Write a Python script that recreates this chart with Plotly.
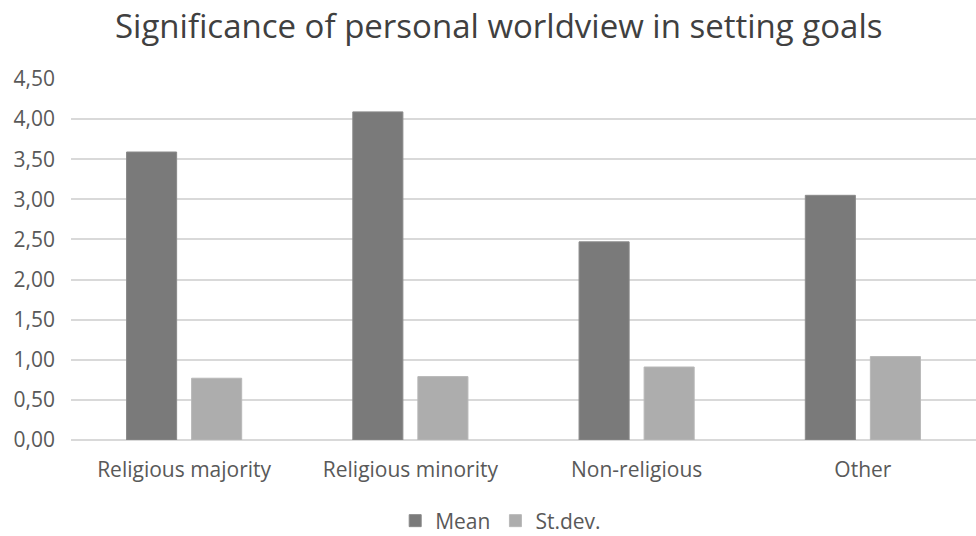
import plotly.graph_objects as go

categories = ["Religious majority", "Religious minority", "Non-religious", "Other"]
mean_vals = [3.59, 4.09, 2.47, 3.05]
sd_vals = [0.77, 0.79, 0.91, 1.04]
y_ticks = [0, 0.5, 1, 1.5, 2, 2.5, 3, 3.5, 4, 4.5]
y_tick_labels = ["0,00", "0,50", "1,00", "1,50", "2,00", "2,50", "3,00", "3,50", "4,00", "4,50"]

FONT = "Open Sans"

fig = go.Figure()
fig.add_trace(go.Bar(x=categories, y=mean_vals, name="Mean",
                     marker=dict(color="#7a7a7a", line=dict(color="#8a8a8a", width=1))))
fig.add_trace(go.Bar(x=categories, y=sd_vals, name="St.dev.",
                     marker=dict(color="#adadad", line=dict(color="#b8b8b8", width=1))))

fig.update_layout(
    width=976, height=536,
    margin=dict(l=71, r=0, t=79, b=96),
    paper_bgcolor="white", plot_bgcolor="white",
    barmode="group", bargap=0.425, bargroupgap=0.23,
    title=dict(text="Significance of personal worldview in setting goals",
               x=0.511, xref="container", xanchor="center", y=0.95, yanchor="middle",
               font=dict(family=FONT, size=33, color="#404040")),
    font=dict(family=FONT, size=21, color="#595959"),
    showlegend=True,
    legend=dict(orientation="h", x=0.513, xanchor="center", xref="container",
                y=0.028, yanchor="middle", yref="container",
                font=dict(family=FONT, size=21, color="#595959"),
                itemwidth=30, traceorder="normal"),
    xaxis=dict(showgrid=False, showline=False, ticks="", tickfont=dict(size=21),
               ticklabelstandoff=15),
    yaxis=dict(range=[0, 4.5], tickvals=y_ticks, ticktext=y_tick_labels,
               showgrid=True, gridcolor="#d9d9d9", gridwidth=1.5,
               zeroline=True, zerolinecolor="#d9d9d9", zerolinewidth=1.5,
               showline=False, ticks="", ticklabelstandoff=15, tickfont=dict(size=21)),
)

fig.write_html("out.html")
